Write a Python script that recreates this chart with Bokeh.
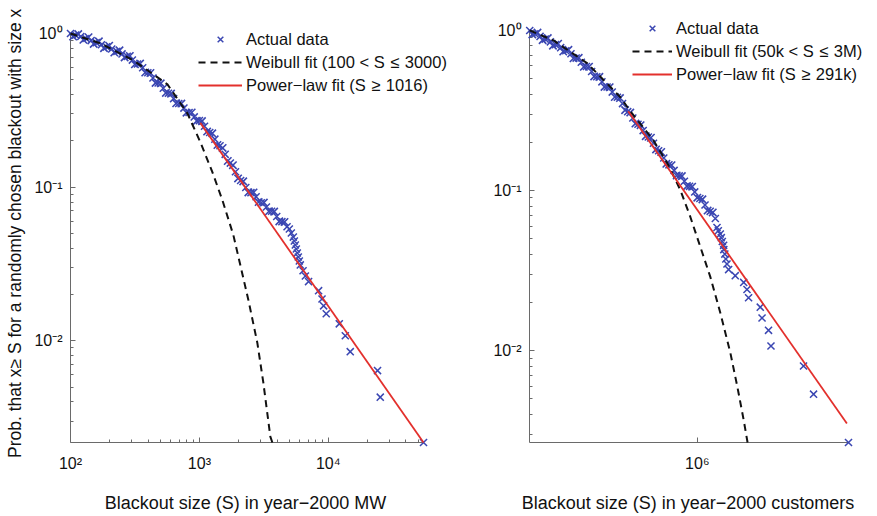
from bokeh.plotting import figure
from bokeh.layouts import row
from bokeh.models import (FixedTicker, CustomJSTickFormatter, Legend, LegendItem, Range1d)
from bokeh.embed import file_html
from bokeh.resources import INLINE

# ---------------- Left panel: blackout size in year-2000 MW ----------------
mw_size = [100, 109.6, 120.2, 131.8, 144.5, 158.5, 173.8, 190.5, 208.9, 229.1,
           251.2, 275.4, 302.0, 331.1, 363.1, 398.1, 436.5, 478.6, 524.8, 575.4,
           631.0, 691.8, 758.6, 831.8, 912.0, 1000, 1096, 1202, 1318, 1445,
           1585, 1738, 1905, 2089, 2291, 2512, 2754, 3020, 3311, 3631,
           3981, 4365, 4786, 4986, 5167, 5355, 5451, 5549, 5649, 5750,
           5853, 5961, 6066, 6370, 6640, 7030, 8410, 8940, 9200, 9640,
           12170, 13550, 14800, 24100, 25300, 54800]
mw_prob = [1.000, 0.976, 0.955, 0.927, 0.899, 0.871, 0.845, 0.818, 0.792, 0.764,
           0.736, 0.710, 0.671, 0.633, 0.598, 0.555, 0.513, 0.476, 0.440, 0.408,
           0.377, 0.350, 0.327, 0.306, 0.2865, 0.271, 0.249, 0.2268, 0.2053, 0.186,
           0.1635, 0.1434, 0.1259, 0.1104, 0.0994, 0.0921, 0.0866, 0.0791, 0.0743, 0.0697,
           0.0644, 0.0596, 0.0552, 0.0534, 0.0503, 0.0473, 0.0446, 0.0420, 0.0396, 0.0373,
           0.0351, 0.0331, 0.0312, 0.0286, 0.0264, 0.0243, 0.0212, 0.0187, 0.0169, 0.0150,
           0.0129, 0.0108, 0.0085, 0.0064, 0.0043, 0.00218]
# further points read along the dense (smeared) part of the band
mw_band_size = [104.7, 114.8, 125.9, 138.0, 151.4, 166.0, 182.0, 199.5, 218.8, 239.9,
                263.0, 288.4, 316.2, 346.7, 380.2, 416.9, 457.1, 501.2, 549.5, 602.6,
                660.7, 724.4, 794.3, 871.0, 955.0, 1047, 1148, 1259, 1380, 1514,
                1660, 1820, 1995, 2188, 2399, 2630, 2884, 3162, 3467, 3802,
                4169, 4571]
mw_band_prob = [0.955, 0.99, 0.909, 0.945, 0.855, 0.888, 0.803, 0.833, 0.752, 0.776,
                0.699, 0.714, 0.630, 0.637, 0.557, 0.553, 0.477, 0.474, 0.410, 0.406,
                0.351, 0.350, 0.305, 0.306, 0.270, 0.269, 0.230, 0.224, 0.188, 0.180,
                0.148, 0.139, 0.114, 0.109, 0.0925, 0.0924, 0.0800, 0.0794, 0.0696, 0.0693,
                0.0599, 0.0594]
mw_weibull_size = [100, 170.9, 307.9, 564.9, 807, 1018, 1261, 1508, 1834, 2398, 2815, 3134, 3551, 3681]
mw_weibull_prob = [1.0, 0.861, 0.668, 0.4665, 0.302, 0.196, 0.1252, 0.0823, 0.0488, 0.01846, 0.0097, 0.00534, 0.00238, 0.00218]
mw_power_size = [1016, 54800]
mw_power_prob = [0.262, 0.00218]

# ---------------- Right panel: blackout size in year-2000 customers ----------------
cu_size = [50100, 54950, 60260, 66070, 72440, 79430, 87100, 95500, 104700, 114800,
           125900, 138000, 151400, 166000, 182000, 199500, 218800, 239900, 263000, 288400,
           316200, 346700, 380200, 416900, 457100, 501200, 549500, 602600, 660700, 724400,
           794300, 871000, 955000, 1047000, 1148000, 1259000, 1380000, 1422000, 1456000, 1508000,
           1536000, 1564000, 1600000, 1606000, 1635000, 1665000, 1700000, 1750000, 1970000, 2290000,
           2430000, 2500000, 3080000, 3180000, 3570000, 3730000, 6670000, 7980000, 14900000]
cu_prob = [1.0, 0.954, 0.918, 0.883, 0.849, 0.816, 0.781, 0.747, 0.715, 0.672,
           0.633, 0.595, 0.554, 0.514, 0.4776, 0.4433, 0.412, 0.3825, 0.3494, 0.311,
           0.2838, 0.2593, 0.2368, 0.2161, 0.1974, 0.1772, 0.1596, 0.1448, 0.1336, 0.1235,
           0.1144, 0.1063, 0.0981, 0.0892, 0.0812, 0.0742, 0.0669, 0.0588, 0.0561, 0.0535,
           0.0508, 0.0481, 0.0455, 0.0428, 0.0401, 0.0374, 0.0348, 0.0321, 0.0294, 0.0267,
           0.0241, 0.0214, 0.0187, 0.0160, 0.0134, 0.0107, 0.00802, 0.00535, 0.00267]
cu_band_size = [52480, 57540, 63100, 69180, 75860, 83180, 91200, 100000, 109600, 120200,
                131800, 144500, 158500, 173800, 190500, 208900, 229100, 251200, 275400, 302000,
                331100, 363100, 398100, 436500, 478600, 524800, 575400, 631000, 691800, 758600,
                831800, 912000, 1000000, 1096000, 1202000, 1318000]
cu_band_prob = [0.944, 0.969, 0.870, 0.896, 0.804, 0.826, 0.738, 0.757, 0.670, 0.675,
                0.593, 0.594, 0.516, 0.513, 0.444, 0.442, 0.384, 0.378, 0.318, 0.307,
                0.262, 0.256, 0.2186, 0.2137, 0.1807, 0.1741, 0.1469, 0.1440, 0.1242, 0.1231,
                0.1066, 0.1057, 0.0903, 0.0881, 0.0750, 0.0730]
cu_weibull_size = [50000, 76600, 140400, 253100, 302700, 456200, 586000, 739000, 883500,
                   1056000, 1262000, 1508000, 1804000, 2044000, 2286000, 2455000]
cu_weibull_prob = [1.0, 0.866, 0.623, 0.3825, 0.313, 0.2064, 0.1484, 0.1007, 0.0684,
                   0.0445, 0.0289, 0.01725, 0.00972, 0.00597, 0.00372, 0.00267]
cu_power_size = [291000, 14480000]
cu_power_prob = [0.313, 0.00351]

labels_mw = ["Actual data", "Weibull fit (100 < S\u2004\u2264\u20043000)", "Power\u2212law fit (S\u2004\u2265\u20041016)"]
labels_cu = ["Actual data", "Weibull fit (50k < S\u2004\u2264\u20043M)", "Power\u2212law fit (S\u2004\u2265\u2004291k)"]

# axis titles (trailing spaces keep each title centred on its data axis)
xlabel_mw = "Blackout size (S) in year\u22122000 MW\u2003\u2003\u2002"
xlabel_cu = "Blackout size (S) in year\u22122000 customers\u2002\u2002"
ylabel_mw = "Prob. that x\u2265 S for a randomly chosen blackout with size x\u2002"

FONT = "Liberation Sans"
BLUE = "#3a46b2"
RED = "#e3302c"
AXC = "#6a6a6a"

sup_code = """
const e = Math.round(Math.log10(tick));
const m = {"0":"\\u2070","1":"\\u00b9","2":"\\u00b2","3":"\\u00b3","4":"\\u2074","5":"\\u2075",
           "6":"\\u2076","7":"\\u2077","8":"\\u2078","9":"\\u2079","-":"\\u207b"};
return "10" + String(e).split("").map(c => m[c]).join("");
"""


def style_axis(ax, ticks, minor, bounds):
    ax.ticker = FixedTicker(ticks=ticks, minor_ticks=minor)
    ax.formatter = CustomJSTickFormatter(code=sup_code)
    ax.bounds = bounds
    ax.axis_line_color = AXC
    ax.major_tick_line_color = AXC
    ax.minor_tick_line_color = AXC
    ax.major_tick_in = 5
    ax.major_tick_out = 0
    ax.minor_tick_in = 3
    ax.minor_tick_out = 0
    ax.major_label_text_font = FONT
    ax.major_label_text_font_size = "16px"
    ax.major_label_text_color = "#111111"
    ax.axis_label_text_font = FONT
    ax.axis_label_text_font_size = "18px"
    ax.axis_label_text_font_style = "normal"
    ax.axis_label_text_color = "#111111"


def make_panel(size, prob, bsize, bprob, wsize, wprob, psize, pprob, labels,
               xr, yr, xview_end, yview_end, width, borders,
               xticks, xminor, yminor, xlabel, ylabel, leg_loc, glyph_w):
    bl, br, bt, bb = borders
    p = figure(width=width, height=515, x_axis_type="log", y_axis_type="log",
               x_range=Range1d(xr[0], xview_end), y_range=Range1d(yr[0], yview_end),
               output_backend="svg", toolbar_location=None,
               min_border_left=bl, min_border_right=br, min_border_top=bt, min_border_bottom=bb)
    p.outline_line_color = None
    p.xgrid.visible = False
    p.ygrid.visible = False
    p.background_fill_color = "white"
    p.border_fill_color = "white"

    r_data = p.scatter(size, prob, marker="x", size=10, line_color=BLUE, line_width=1.5, level="overlay")
    p.scatter(bsize, bprob, marker="x", size=10.5, line_color=BLUE, line_width=1.6, level="overlay")
    r_w = p.line(wsize, wprob, line_color="#111111", line_width=2, line_dash="7 5", level="overlay")
    r_p = p.line(psize, pprob, line_color=RED, line_width=1.8, level="overlay")

    style_axis(p.xaxis[0], xticks, xminor, xr)
    style_axis(p.yaxis[0], [0.01, 0.1, 1], yminor, yr)
    p.xaxis[0].major_label_standoff = 12
    p.xaxis[0].axis_label = xlabel
    p.xaxis[0].axis_label_standoff = 18
    p.yaxis[0].major_label_standoff = 8
    if ylabel:
        p.yaxis[0].axis_label = ylabel
        p.yaxis[0].axis_label_standoff = 6
        p.yaxis[0].axis_label_text_font_size = "17.5px"

    leg = Legend(items=[LegendItem(label=labels[0], renderers=[r_data]),
                        LegendItem(label=labels[1], renderers=[r_w]),
                        LegendItem(label=labels[2], renderers=[r_p])],
                 location=leg_loc, orientation="vertical",
                 background_fill_alpha=0, border_line_alpha=0,
                 label_text_font=FONT, label_text_font_size="16.5px", label_text_color="#111111",
                 glyph_width=glyph_w, glyph_height=20, label_height=20, label_standoff=4,
                 spacing=3, padding=0, margin=0)
    p.add_layout(leg)
    return p


yminor = [0.003, 0.004, 0.005, 0.006, 0.007, 0.008, 0.009,
          0.02, 0.03, 0.04, 0.05, 0.06, 0.07, 0.08, 0.09,
          0.2, 0.3, 0.4, 0.5, 0.6, 0.7, 0.8, 0.9]
xminor_mw = [200, 300, 400, 500, 600, 700, 800, 900,
             2000, 3000, 4000, 5000, 6000, 7000, 8000, 9000,
             20000, 30000, 40000, 50000]

p1 = make_panel(mw_size, mw_prob, mw_band_size, mw_band_prob, mw_weibull_size, mw_weibull_prob,
                mw_power_size, mw_power_prob, labels_mw,
                (100, 54800), (0.00218, 1), 116000, 1.3089, 470, (70, 5, 15, 72),
                [100, 1000, 10000], xminor_mw, yminor,
                xlabel_mw, ylabel_mw, (128, 347), 44)

p2 = make_panel(cu_size, cu_prob, cu_band_size, cu_band_prob, cu_weibull_size, cu_weibull_prob,
                cu_power_size, cu_power_prob, labels_cu,
                (49900, 14900000), (0.00267, 1), 19830000, 1.2398, 406, (59, 12, 15, 72),
                [1000000], [], yminor,
                xlabel_cu, None, (103, 358), 40)

layout = row(p1, p2, spacing=0)
open("out.html", "w").write(file_html(layout, INLINE))
